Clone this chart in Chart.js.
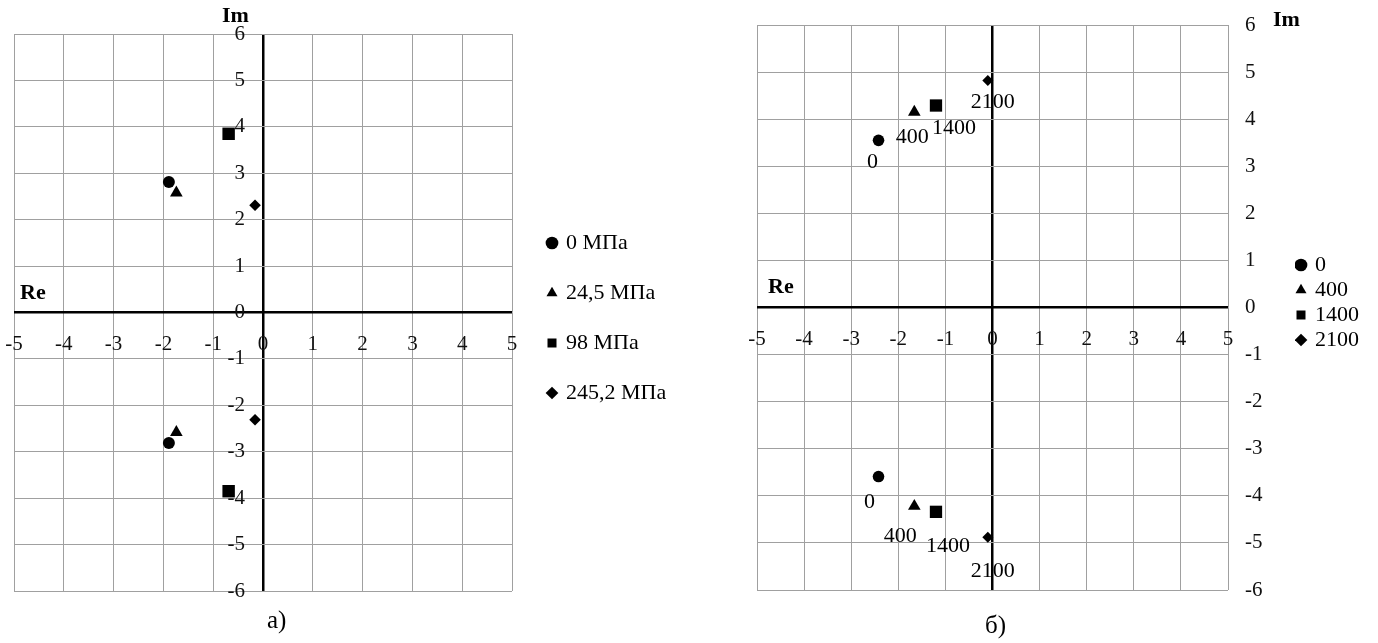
<!DOCTYPE html>
<html><head><meta charset="utf-8">
<script src="https://cdn.jsdelivr.net/npm/chart.js@4/dist/chart.umd.min.js"></script>
<style>
html,body{margin:0;padding:0;background:#fff;width:1378px;height:643px;overflow:hidden;position:relative}
canvas{position:absolute;top:0}
#cA{left:0}
#cB{left:700px}
.t{position:absolute;font-family:'Liberation Serif','Times New Roman',serif;line-height:1;white-space:nowrap;color:#000}
.b{font-weight:bold;font-size:22px}
.cap{font-size:25px}
</style></head><body>
<canvas id="cA" width="700" height="643"></canvas>
<canvas id="cB" width="678" height="643"></canvas>
<div class="t b" style="left:222px;top:4px">Im</div>
<div class="t b" style="left:20px;top:281px">Re</div>
<div class="t b" style="left:1273px;top:8px">Im</div>
<div class="t b" style="left:768px;top:275px">Re</div>
<div class="t cap" style="left:267px;top:607px">а)</div>
<div class="t cap" style="left:985px;top:612px">б)</div>
<script>
// ---- shared axis ranges (tick labels generated from these) ----
const X_MIN = -5, X_MAX = 5;
const Y_MIN = -6, Y_MAX = 6;
const TICK_STEP = 1;

// ---- chart а) ----
const A_NAMES = ['0 МПа', '24,5 МПа', '98 МПа', '245,2 МПа'];
const A_RE = [-1.89, -1.74, -0.69, -0.16];
const A_IM_UP = [2.81, 2.58, 3.85, 2.31];
const A_IM_DOWN = [-2.81, -2.58, -3.85, -2.31];

// ---- chart б) ----
const B_NAMES = ['0', '400', '1400', '2100'];
const B_RE = [-2.42, -1.66, -1.20, -0.10];
const B_IM_UP = [3.55, 4.15, 4.29, 4.82];
const B_IM_DOWN = [-3.59, -4.22, -4.34, -4.88];

// ---- styles ----
const POINT_STYLES = ['circle', 'triangle', 'rect', 'rectRot'];
const A_RADII = [6, 7.3, 8.8, 5.8];
const B_RADII = [5.8, 7.3, 8.7, 5.5];
const B_LABEL_OFFSETS = [
  [[-6, 22], [-9, 26]],
  [[-2, 25], [-14, 30]],
  [[18, 23], [12, 34]],
  [[5, 22], [5, 34]]
];
const SERIF = "'Liberation Serif','Times New Roman',serif";
const GRID = '#a0a0a0';
const NO_TICK = 'rgba(0,0,0,0)';

function makeDatasets(names, re, up, down, radii) {
  return names.map((n, i) => ({
    label: n,
    data: [{x: re[i], y: up[i]}, {x: re[i], y: down[i]}],
    pointStyle: POINT_STYLES[i],
    pointRadius: radii[i],
    pointHoverRadius: radii[i],
    pointBorderWidth: 0,
    backgroundColor: '#000',
    borderColor: '#000',
    showLine: false
  }));
}

function gridOpts(tl) {
  return {
    color: c => (c.tick && c.tick.value === 0) ? '#000' : GRID,
    lineWidth: c => (c.tick && c.tick.value === 0) ? 2.5 : 1,
    drawTicks: true,
    tickLength: tl,
    tickColor: NO_TICK
  };
}
const tickFont = {family: SERIF, size: 21};

// move legend box to a fixed spot (first item box at x,y)
const placeLegend = {
  id: 'placeLegend',
  afterLayout(chart, args, opts) {
    const lg = chart.legend;
    if (!lg || opts.x === undefined) return;
    const p = chart.options.plugins.legend.labels.padding;
    const w = lg.width, h = lg.height;
    lg.left = opts.x - p; lg.top = opts.y - p;
    lg.right = lg.left + w; lg.bottom = lg.top + h;
  }
};

// give the zero-width y axis a label box: either ending on the x = 0 line, or starting at the plot's right edge
const yAxisBox = {
  id: 'yAxisBox',
  afterLayout(chart, args, opts) {
    if (!opts || !opts.mode) return;
    const y = chart.scales.y;
    if (opts.mode === 'zero') {
      const px = chart.scales.x.getPixelForValue(0);
      y.right = px; y.left = px - 80; y.width = 80;
    } else {
      y.left = chart.chartArea.right; y.right = y.left + 70; y.width = 70;
    }
  }
};

const pointLabels = {
  id: 'pointLabels',
  afterDatasetsDraw(chart, args, opts) {
    if (!opts || !opts.labels) return;
    const ctx = chart.ctx;
    ctx.save();
    ctx.font = '22px ' + SERIF;
    ctx.fillStyle = '#000';
    ctx.textAlign = 'center';
    ctx.textBaseline = 'middle';
    chart.data.datasets.forEach((ds, i) => {
      chart.getDatasetMeta(i).data.forEach((pt, j) => {
        const off = opts.offsets[i][j];
        ctx.fillText(opts.labels[i], pt.x + off[0], pt.y + off[1]);
      });
    });
    ctx.restore();
  }
};

function legendOpts(pad) {
  return {
    display: true,
    position: 'chartArea',
    align: 'start',
    labels: {
      usePointStyle: true,
      boxWidth: 6,
      boxHeight: 9,
      padding: pad,
      color: '#000',
      font: {family: SERIF, size: 22}
    }
  };
}

// chart а)
new Chart(document.getElementById('cA'), {
  type: 'scatter',
  data: {datasets: makeDatasets(A_NAMES, A_RE, A_IM_UP, A_IM_DOWN, A_RADII)},
  plugins: [placeLegend, yAxisBox],
  options: {
    responsive: false, animation: false, devicePixelRatio: 1,
    layout: {padding: {left: 14, top: 34, right: 188, bottom: 52}},
    plugins: {
      legend: legendOpts(28),
      placeLegend: {x: 549, y: 232},
      yAxisBox: {mode: 'zero'},
      tooltip: {enabled: false}
    },
    scales: {
      x: {
        type: 'linear', min: X_MIN, max: X_MAX, position: {y: 0},
        grid: gridOpts(19), border: {display: false},
        ticks: {stepSize: TICK_STEP, autoSkip: false, maxRotation: 0, padding: 0, color: '#111', font: tickFont},
        afterFit: s => { s.height = 0; }
      },
      y: {
        type: 'linear', min: Y_MIN, max: Y_MAX, position: 'left',
        grid: gridOpts(18), border: {display: false},
        ticks: {stepSize: TICK_STEP, autoSkip: false, padding: 0, color: '#111', font: tickFont},
        afterFit: s => { s.width = 0; }
      }
    }
  }
});

// chart б)
new Chart(document.getElementById('cB'), {
  type: 'scatter',
  data: {datasets: makeDatasets(B_NAMES, B_RE, B_IM_UP, B_IM_DOWN, B_RADII)},
  plugins: [placeLegend, yAxisBox, pointLabels],
  options: {
    responsive: false, animation: false, devicePixelRatio: 1,
    layout: {padding: {left: 57, top: 25, right: 150, bottom: 53}},
    plugins: {
      legend: legendOpts(3),
      placeLegend: {x: 598, y: 254},
      yAxisBox: {mode: 'right'},
      pointLabels: {labels: B_NAMES, offsets: B_LABEL_OFFSETS},
      tooltip: {enabled: false}
    },
    scales: {
      x: {
        type: 'linear', min: X_MIN, max: X_MAX, position: {y: 0},
        grid: gridOpts(19), border: {display: false},
        ticks: {stepSize: TICK_STEP, autoSkip: false, maxRotation: 0, padding: 0, color: '#111', font: tickFont},
        afterFit: s => { s.height = 0; }
      },
      y: {
        type: 'linear', min: Y_MIN, max: Y_MAX, position: 'right',
        grid: gridOpts(17), border: {display: false},
        ticks: {stepSize: TICK_STEP, autoSkip: false, padding: 0, color: '#111', font: tickFont},
        afterFit: s => { s.width = 0; }
      }
    }
  }
});
</script>
</body></html>
